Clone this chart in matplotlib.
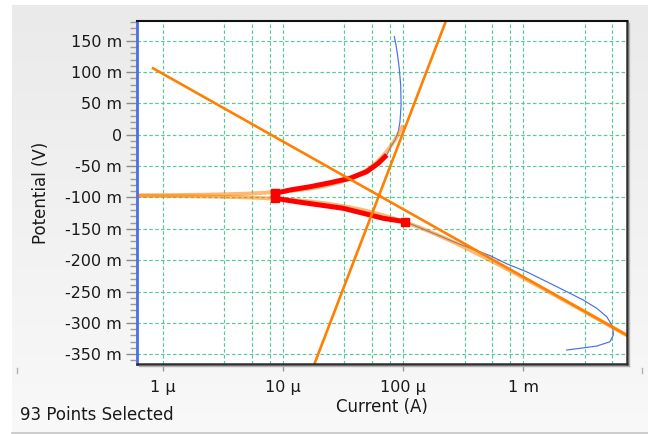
import numpy as np
import matplotlib
matplotlib.use("Agg")
import matplotlib.pyplot as plt
from matplotlib.ticker import FixedLocator, FixedFormatter, MultipleLocator, NullLocator
from matplotlib.lines import Line2D

# ---- measured scan (current in µA, potential in mV), in scan order ----
scan_current_uA = [2296, 2965, 4083, 5260, 5610, 5546, 4943, 4083, 3155, 2301,
                   1567, 1069, 728, 528, 398, 282, 200, 141, 104, 68.4,
                   46.7, 31.8, 20.4, 13.0, 8.6, 8.6, 11.5, 16.8, 24.7, 36.1,
                   49.8, 62.2, 73.1, 78.9, 85.7, 91.2, 94.2, 96.2, 95.5, 92.9,
                   89.9, 87.3, 84.5]
scan_potential_mV = [-343.3, -340.6, -337.0, -330.1, -319.4, -306.2, -290.2, -276.8, -263.6, -250.3,
                     -234.4, -218.7, -205.8, -192.7, -184.0, -173.0, -161.0, -149.0, -138.7, -133.3,
                     -125.3, -117.3, -112.1, -106.8, -101.4, -93.4, -88.1, -82.9, -76.5, -69.5,
                     -58.9, -45.5, -32.3, -19.1, -8.4, 4.9, 20.8, 47.4, 79.3, 106.0,
                     127.2, 143.1, 156.4]
selection_start = 18
selection_end = 32
selection_handles = [18, 24, 25]

# ---- Tafel fit parameters ----
ecorr_mV = -97.0
icorr_uA = 63.0
beta_a_mV = 500.0
beta_c_mV = 108.0
fit_range_mV = [-345.0, 13.0]
anodic_line_mV = [-420.0, 250.0]
cathodic_line_mV = [106.0, -420.0]

# ---- axis text ----
x_tick_values = [1e-6, 1e-5, 1e-4, 1e-3]
x_tick_labels = ["1 µ", "10 µ", "100 µ", "1 m"]
y_tick_values = [0.15, 0.10, 0.05, 0.0, -0.05, -0.10, -0.15, -0.20, -0.25, -0.30, -0.35]
y_tick_labels = ["150 m", "100 m", "50 m", "0", "-50 m", "-100 m", "-150 m",
                 "-200 m", "-250 m", "-300 m", "-350 m"]
x_label = "Current (A)"
y_label = "Potential (V)"
status_text = "93 Points Selected"

W, H = 648, 434
fig = plt.figure(figsize=(W / 100, H / 100), dpi=100)
fig.patch.set_facecolor("white")

# background panel with light gradient
bg = fig.add_axes([12 / W, 1 - 432 / H, 636 / W, 427 / H], zorder=-10)
grad = np.linspace(0, 1, 256)[:, None]
top_c = np.array([0.918, 0.918, 0.918])
bot_c = np.array([0.975, 0.975, 0.975])
img = top_c[None, None, :] * (1 - grad[..., None]) + bot_c[None, None, :] * grad[..., None]
bg.imshow(img, aspect="auto", extent=[0, 1, 0, 1], origin="upper")
bg.set_axis_off()
fig.add_artist(Line2D([12 / W, 1], [1 - 432.5 / H] * 2, color="#c4c4c4", lw=1.2))

# main axes
L, R, T, B = 136.7, 626.7, 20.7, 364.3
ax = fig.add_axes([L / W, 1 - B / H, (R - L) / W, (B - T) / H])
ax.set_facecolor("white")
ax.set_xscale("log")
ax.set_xlim(10 ** -6.216, 10 ** -2.140)
ax.set_ylim(-0.3661, 0.1819)

# grid
grid_color = "#56c99a"
for dec in range(-6, -2):
    for m in (1.0, 3.25, 5.5, 7.8):
        v = m * 10.0 ** dec
        if v < ax.get_xlim()[1]:
            ax.axvline(v, color=grid_color, lw=0.85, ls=(0, (3, 2)), zorder=1)
for v in y_tick_values:
    ax.axhline(v, color=grid_color, lw=0.85, ls=(0, (3, 2)), zorder=1)

I = np.array(scan_current_uA) * 1e-6
E = np.array(scan_potential_mV) * 1e-3

# measured data
ax.plot(I, E, color="#4a6fe3", lw=0.85, zorder=2)

# Tafel fit curve (under the selection)
ec = ecorr_mV
d = np.logspace(-4, 3, 1500)
e_fit_mV = np.concatenate([ec - d[::-1], ec + d])
e_fit_mV = e_fit_mV[(e_fit_mV >= fit_range_mV[0]) & (e_fit_mV <= fit_range_mV[1])]
eta = e_fit_mV - ec
i_fit = icorr_uA * 1e-6 * np.abs(10 ** (eta / beta_a_mV) - 10 ** (-eta / beta_c_mV))
low = e_fit_mV < ec
ax.plot(i_fit[low], e_fit_mV[low] * 1e-3, color="#ff8000", lw=2.8, alpha=0.55, zorder=3)
ax.plot(i_fit[~low], e_fit_mV[~low] * 1e-3, color="#ff8000", lw=2.8, alpha=0.55, zorder=3)

# selected region
ax.plot(I[selection_start:selection_end + 1], E[selection_start:selection_end + 1],
        color="#ff0000", lw=3.6, solid_capstyle="butt", zorder=4)

# Tafel lines
ea = np.array(anodic_line_mV)
ax.plot(icorr_uA * 1e-6 * 10 ** ((ea - ec) / beta_a_mV), ea * 1e-3,
        color="#ff8000", lw=1.9, zorder=5)
ecl = np.array(cathodic_line_mV)
ax.plot(icorr_uA * 1e-6 * 10 ** (-(ecl - ec) / beta_c_mV), ecl * 1e-3,
        color="#ff8000", lw=1.9, zorder=5)

# selection handles
ax.plot(I[selection_handles], E[selection_handles], ls="none", marker="s",
        ms=5.5, color="#ff0000", mec="#ff0000", zorder=6)

# ticks
ax.xaxis.set_major_locator(FixedLocator(x_tick_values))
ax.xaxis.set_major_formatter(FixedFormatter(x_tick_labels))
ax.xaxis.set_minor_locator(NullLocator())
ax.yaxis.set_major_locator(FixedLocator(y_tick_values))
ax.yaxis.set_major_formatter(FixedFormatter(y_tick_labels))
ax.yaxis.set_minor_locator(MultipleLocator(0.01))
ax.tick_params(axis="x", which="major", direction="out", length=5, width=1,
               color="#9a9a9a", labelsize=11.5, pad=6, labelcolor="#1a1a1a")
ax.tick_params(axis="y", which="major", direction="out", length=8, width=1,
               color="#8a8a8a", labelsize=11.5, pad=2.5, labelcolor="#1a1a1a")
ax.tick_params(axis="y", which="minor", direction="out", length=5, width=1,
               color="#9a9a9a")

# spines
ax.spines["left"].set_color("#4a6fe3")
ax.spines["left"].set_linewidth(2.0)
ax.spines["bottom"].set_color("#2e2e2e")
ax.spines["bottom"].set_linewidth(1.8)
ax.spines["top"].set_color("#111111")
ax.spines["top"].set_linewidth(1.5)
ax.spines["right"].set_color("#2e2e2e")
ax.spines["right"].set_linewidth(1.8)
for s in ax.spines.values():
    s.set_zorder(7)
# soft shadow below/right of the frame
fig.add_artist(Line2D([(L + 2) / W, (R + 2) / W], [1 - (B + 1.8) / H] * 2, color="#b0b0b0", lw=1))
fig.add_artist(Line2D([(R + 1.8) / W] * 2, [1 - (B + 1.8) / H, 1 - (T + 2) / H], color="#b0b0b0", lw=1))
# small end marks of the bottom scale
for xp in (16.5, 642):
    fig.add_artist(Line2D([xp / W] * 2, [1 - 367.5 / H, 1 - 372.5 / H], color="#b0b0b0", lw=1))

# labels
ax.set_xlabel(x_label, fontsize=12, color="#1a1a1a")
ax.xaxis.label.set_va("center")
ax.xaxis.set_label_coords(0.5, (B - 406.7) / (B - T))
ax.set_ylabel(y_label, fontsize=12, color="#1a1a1a")
ax.yaxis.label.set_va("center")
ax.yaxis.set_label_coords((41 - L) / (R - L), 0.5)

fig.text(20.5 / W, 1 - 415 / H, status_text, fontsize=12, color="#1a1a1a",
         ha="left", va="center")

fig.savefig("out.png", dpi=100, facecolor=fig.get_facecolor())
